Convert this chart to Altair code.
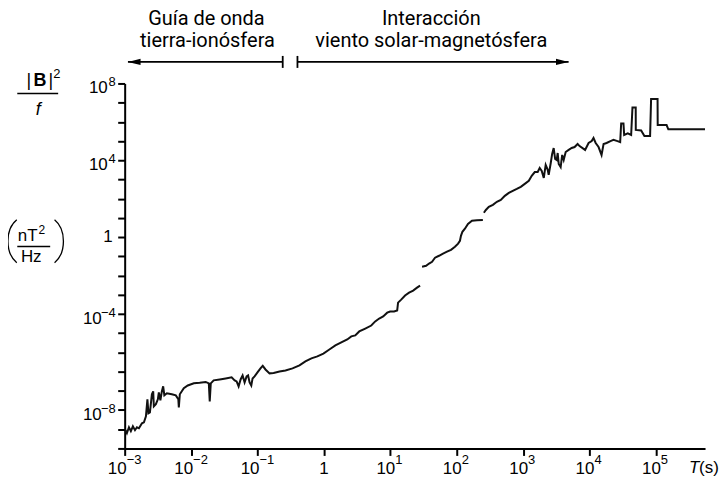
import altair as alt
import pandas as pd

# ---- data: period T (s) and |B|^2/f (nT^2/Hz) ----
seg1 = [
    (1.01e-3, 1.0e-10), (1.08e-3, 6.2e-11), (1.16e-3, 1.26e-10), (1.24e-3, 7.9e-11),
    (1.33e-3, 1.41e-10), (1.43e-3, 8.9e-11), (1.53e-3, 1.26e-10), (1.64e-3, 1.12e-10),
    (1.82e-3, 2.04e-10), (1.95e-3, 2.29e-10), (2.09e-3, 4.7e-10), (2.20e-3, 3.6e-9),
    (2.28e-3, 6.8e-10), (2.40e-3, 7.6e-10), (2.57e-3, 6.6e-9), (2.69e-3, 9.3e-9),
    (2.75e-3, 1.55e-9), (2.95e-3, 2.0e-9), (3.16e-3, 3.6e-9), (3.27e-3, 8.3e-9),
    (3.45e-3, 3.2e-9), (3.63e-3, 9.3e-9), (3.80e-3, 1.7e-8), (3.96e-3, 5.8e-9),
    (4.32e-3, 7.4e-9), (5.13e-3, 6.6e-9), (5.89e-3, 5.8e-9), (6.43e-3, 3.6e-9),
    (6.54e-3, 1.38e-9), (6.77e-3, 6.6e-9), (7.77e-3, 1.35e-8), (8.92e-3, 1.9e-8),
    (1.10e-2, 2.45e-8), (1.35e-2, 2.6e-8), (1.66e-2, 2.9e-8), (1.85e-2, 2.45e-8),
    (1.91e-2, 2.8e-9), (1.98e-2, 2.45e-8), (2.19e-2, 3.5e-8), (2.70e-2, 3.9e-8),
    (3.32e-2, 4.4e-8), (4.08e-2, 5.0e-8), (4.53e-2, 3.5e-8), (4.85e-2, 3.1e-8),
    (5.20e-2, 1.7e-8), (5.57e-2, 3.9e-8), (5.97e-2, 6.3e-8), (6.40e-2, 2.75e-8),
    (6.86e-2, 5.6e-8), (7.22e-2, 6.3e-8), (7.61e-2, 2.75e-8), (8.07e-2, 1.9e-8),
    (8.44e-2, 4.4e-8), (9.04e-2, 5.6e-8), (0.100, 9.1e-8), (0.111, 1.47e-7),
    (0.120, 2.0e-7), (0.132, 1.29e-7), (0.152, 8.1e-8), (0.175, 8.5e-8),
    (0.215, 1.02e-7), (0.264, 1.15e-7), (0.337, 1.47e-7), (0.429, 2.1e-7),
    (0.527, 3.4e-7), (0.649, 4.9e-7), (0.798, 6.2e-7), (0.983, 8.7e-7),
    (1.21, 1.41e-6), (1.49, 2.3e-6), (1.83, 3.3e-6), (2.25, 4.7e-6),
    (2.59, 6.8e-6), (2.97, 7.6e-6), (3.41, 1.23e-5), (4.20, 1.74e-5),
    (5.17, 2.5e-5), (5.93, 4.1e-5), (6.81, 5.8e-5), (7.82, 7.4e-5),
    (8.99, 1.17e-4), (9.97, 1.35e-4), (11.4, 1.35e-4), (12.7, 1.51e-4),
    (13.1, 3.9e-4), (14.6, 5.6e-4), (16.7, 9.1e-4), (19.2, 1.29e-3),
    (22.1, 1.66e-3), (25.3, 2.34e-3), (28.1, 3.0e-3),
]
seg2 = [
    (30.1, 2.9e-2), (34.6, 3.2e-2), (38.4, 4.2e-2), (42.6, 5.2e-2), (47.2, 8.5e-2),
    (54.2, 0.107), (62.3, 0.138), (71.5, 0.174), (82.1, 0.219), (94.2, 0.316),
    (105, 0.457), (112, 0.646), (116, 1.17), (122, 1.9), (133, 2.75),
    (148, 4.9), (170, 7.1), (202, 7.6), (248, 7.9),
]
seg3 = [
    (257, 18.6), (275, 26), (305, 38), (351, 48), (403, 69), (462, 87), (531, 141),
    (610, 200), (700, 257), (804, 324), (924, 417), (1060, 589), (1220, 851),
    (1350, 1550), (1500, 2450), (1660, 2450), (1780, 3980), (1910, 2820),
    (2050, 1200), (2190, 5750), (2350, 3160), (2430, 1740), (2610, 7240),
    (2740, 21400), (2890, 43600), (3040, 11700), (3210, 10400), (3320, 24000),
    (3440, 6460), (3680, 4470), (3880, 19000), (4090, 10400), (4380, 27000),
    (4860, 34700), (5390, 43600), (5970, 49000), (6630, 70800), (7100, 55000),
    (8590, 34700), (9700, 79400), (10800, 1.0e5), (11500, 1.44e5), (12400, 79400),
    (13700, 49000), (15200, 19000), (16300, 70800), (18100, 79400), (20700, 1.0e5),
    (23000, 1.15e5), (26400, 1.0e5), (29000, 89100), (30000, 8.3e5), (32500, 8.3e5),
    (33300, 2.09e5), (37700, 2.51e5), (42400, 2.09e5), (44400, 5.6e6), (49700, 5.6e6),
    (49800, 3.8e5), (60000, 3.55e5), (67200, 1.82e5), (81800, 1.82e5),
    (84700, 1.53e7), (1.06e5, 1.53e7), (1.065e5, 6.8e5), (1.45e5, 6.8e5),
    (1.54e5, 4.1e5), (5.5e5, 4.1e5),
]

x_tick_values = [1e-3, 1e-2, 1e-1, 1, 10, 100, 1e3, 1e4, 1e5]
x_tick_exps = ["−3", "−2", "−1", "", "1", "2", "3", "4", "5"]
y_tick_values = [1e-11, 1e-10, 1e-9, 1e-8, 1e-7, 1e-6, 1e-5, 1e-4, 1e-3, 1e-2,
                 1e-1, 1, 10, 100, 1e3, 1e4, 1e5, 1e6, 1e7, 1e8]
y_label_values = [1e8, 1e4, 1, 1e-4, 1e-9]
y_label_exps = ["8", "4", "", "−4", "−8"]

# regimes annotated at the top (period ranges)
regime_left = (1.12e-3, 0.24)
regime_right = (0.40, 4850)

X_DOMAIN = [1e-3, 5.5e5]
Y_DOMAIN = [1e-11, 1e8]
W, H = 582, 366
FONT = "Liberation Sans"
TFONT = "Roboto"

rows = []
i = 0
for s, seg in enumerate([seg1, seg2, seg3]):
    for t, b in seg:
        rows.append({"T": t, "B": b, "seg": s, "i": i})
        i += 1
trace = pd.DataFrame(rows)

xs = alt.Scale(type="log", domain=X_DOMAIN, nice=False)
ys = alt.Scale(type="log", domain=Y_DOMAIN, nice=False)

line = alt.Chart(trace).mark_line(color="#111111", strokeWidth=2, clip=True).encode(
    x=alt.X("T:Q", scale=xs, axis=alt.Axis(values=x_tick_values, labels=False, title=None,
                                            grid=False, tickSize=7, tickWidth=2, domainWidth=2,
                                            domainColor="black", tickColor="black")),
    y=alt.Y("B:Q", scale=ys, axis=alt.Axis(values=y_tick_values, labels=False, title=None,
                                            grid=False, tickSize=7, tickWidth=2, domainWidth=2,
                                            domainColor="black", tickColor="black")),
    detail="seg:N",
    order="i:Q",
)

# ---- custom tick labels (10 with superscript exponent) ----
xl = pd.DataFrame({"v": x_tick_values, "e": x_tick_exps})
xl["kind"] = ["neg" if e.startswith("−") else ("one" if e == "" else "pos") for e in x_tick_exps]

def xlab(kind, dx):
    base = alt.Chart(xl).transform_filter(alt.datum.kind == kind)
    enc = dict(x=alt.X("v:Q", scale=xs, axis=None))
    t10 = base.mark_text(text="10", font=FONT, fontSize=17, align="right", baseline="middle",
                         dx=dx, color="black").encode(y=alt.value(H + 21), **enc)
    tex = base.mark_text(font=FONT, fontSize=13, align="left", baseline="middle",
                         dx=dx, color="black").encode(y=alt.value(H + 12), text="e:N", **enc)
    return t10 + tex

x_one = alt.Chart(xl).transform_filter(alt.datum.kind == "one").mark_text(
    text="1", font=FONT, fontSize=17, align="center", baseline="middle", color="black"
).encode(x=alt.X("v:Q", scale=xs, axis=None), y=alt.value(H + 21))

yl = pd.DataFrame({"v": y_label_values, "e": y_label_exps})
yl["kind"] = ["neg" if e.startswith("−") else ("one" if e == "" else "pos") for e in y_label_exps]

def ylab(kind, xten):
    base = alt.Chart(yl).transform_filter(alt.datum.kind == kind)
    enc = dict(y=alt.Y("v:Q", scale=ys, axis=None))
    t10 = base.mark_text(text="10", font=FONT, fontSize=17, align="right", baseline="middle",
                         dy=5, color="black").encode(x=alt.value(xten), **enc)
    tex = base.mark_text(font=FONT, fontSize=13, align="right", baseline="middle",
                         dy=-1, color="black").encode(x=alt.value(-9), text="e:N", **enc)
    return t10 + tex

y_one = alt.Chart(yl).transform_filter(alt.datum.kind == "one").mark_text(
    text="1", font=FONT, fontSize=17, align="right", baseline="middle", color="black"
).encode(x=alt.value(-12), y=alt.Y("v:Q", scale=ys, axis=None))

one = pd.DataFrame({"a": [0]})

def txt(s, x, y, size, font=FONT, **kw):
    return alt.Chart(one).mark_text(text=s, font=font, fontSize=size, color="black", **kw).encode(
        x=alt.value(x), y=alt.value(y))

def hrule(x1, x2, y, w=1.5):
    return alt.Chart(one).mark_rule(color="black", strokeWidth=w).encode(
        x=alt.value(x1), x2=alt.value(x2), y=alt.value(y))

def paren(path, x, y):
    return alt.Chart(one).mark_point(shape=path, size=1850, filled=False, color="black",
                                     strokeWidth=1.3, opacity=1).encode(x=alt.value(x), y=alt.value(y))

ylabel = (
    txt("|", -96, -2.8, 18, baseline="middle", align="center")
    + txt("B", -85, -2.8, 18, baseline="middle", align="center", fontWeight="bold")
    + txt("|", -74, -2.8, 18, baseline="middle", align="center")
    + txt("2", -71.5, -9, 13, baseline="middle", align="left")
    + hrule(-107.7, -66.7, 10)
    + txt("f", -86.7, 26.5, 18, baseline="middle", align="center", fontStyle="italic")
    + paren("M 0.2 -1 C -0.35 -0.55 -0.35 0.55 0.2 1", -112.5, 158.2)
    + txt("nT", -97.2, 152.7, 17, baseline="middle", align="center")
    + txt("2", -86.5, 147, 12, baseline="middle", align="left")
    + hrule(-107.7, -74.7, 163.4)
    + txt("Hz", -93.7, 174.5, 17, baseline="middle", align="center")
    + paren("M -0.2 -1 C 0.35 -0.55 0.35 0.55 -0.2 1", -66, 158.2)
)

xtitle = txt("T", 566, H + 20, 17, baseline="middle", align="left", fontStyle="italic") \
    + txt("(s)", 576, H + 20, 17, baseline="middle", align="left")

# ---- regime annotations with arrows ----
ARROW_Y = -21.6
arr = pd.DataFrame({"a": [regime_left[0], regime_right[0]], "b": [regime_left[1], regime_right[1]]})
arrow_lines = alt.Chart(arr).mark_rule(color="black", strokeWidth=1.8).encode(
    x=alt.X("a:Q", scale=xs, axis=None), x2="b:Q", y=alt.value(ARROW_Y))
bars = pd.DataFrame({"v": [regime_left[1], regime_right[0]]})
arrow_bars = alt.Chart(bars).mark_rule(color="black", strokeWidth=1.8).encode(
    x=alt.X("v:Q", scale=xs, axis=None), y=alt.value(ARROW_Y - 6), y2=alt.value(ARROW_Y + 6))
head_l = alt.Chart(pd.DataFrame({"v": [regime_left[0]]})).mark_point(
    shape="M 0 0 L 2 -0.5 L 2 0.5 Z", size=160, filled=True, color="black", opacity=1
).encode(x=alt.X("v:Q", scale=xs, axis=None), y=alt.value(ARROW_Y))
head_r = alt.Chart(pd.DataFrame({"v": [regime_right[1]]})).mark_point(
    shape="M 0 0 L -2 -0.5 L -2 0.5 Z", size=160, filled=True, color="black", opacity=1
).encode(x=alt.X("v:Q", scale=xs, axis=None), y=alt.value(ARROW_Y))

labels_top = (
    txt("Guía de onda", 82, -64.5, 20, font=TFONT, baseline="middle", align="center")
    + txt("tierra-ionósfera", 83, -42.5, 20, font=TFONT, baseline="middle", align="center")
    + txt("Interacción", 307.5, -64.5, 20, font=TFONT, baseline="middle", align="center")
    + txt("viento solar-magnetósfera", 307.5, -42.5, 20, font=TFONT, baseline="middle", align="center")
)

chart = alt.layer(
    line,
    xlab("neg", 2), xlab("pos", 5), x_one,
    ylab("pos", -17), ylab("neg", -23), y_one,
    ylabel, xtitle,
    arrow_lines, arrow_bars, head_l, head_r, labels_top,
).resolve_axis(
    x="independent", y="independent"
).properties(
    width=W, height=H,
    padding={"left": 117, "top": 75, "right": 15, "bottom": 34},
    autosize=alt.AutoSizeParams(type="none"),
    background="white",
).configure_view(stroke=None)

chart.save("out.html", embed_options={"renderer": "svg", "actions": False})
